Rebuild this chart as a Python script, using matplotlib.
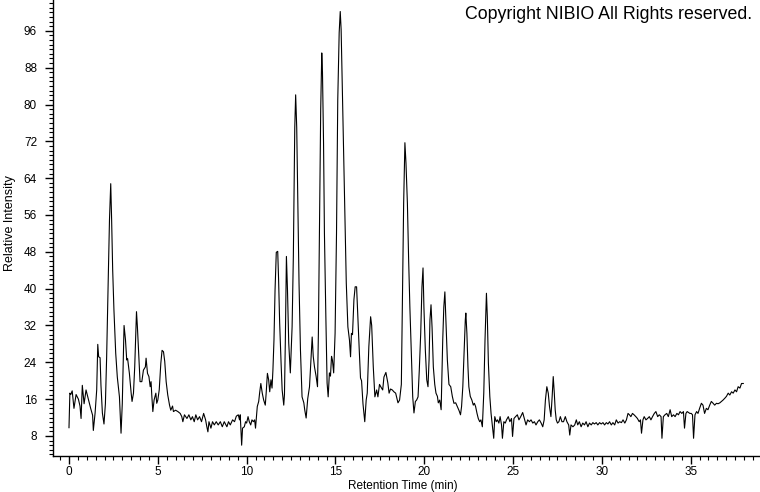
import matplotlib
matplotlib.use("Agg")
import matplotlib.pyplot as plt
from matplotlib.ticker import MultipleLocator

plt.rcParams['font.family'] = ['Liberation Sans', 'DejaVu Sans']

retention_time = [
    0.00, 0.05, 0.10, 0.18, 0.28, 0.40, 0.53, 0.62, 0.68, 0.75, 0.85, 0.96, 1.09, 1.22, 1.33, 1.37,
    1.47, 1.56, 1.62, 1.67, 1.75, 1.80, 1.88, 1.97, 2.05, 2.12, 2.18, 2.22, 2.28, 2.35, 2.40, 2.46,
    2.53, 2.63, 2.72, 2.84, 2.93, 3.00, 3.10, 3.18, 3.25, 3.30, 3.40, 3.50, 3.55, 3.63, 3.70, 3.80,
    3.85, 3.93, 4.00, 4.10, 4.19, 4.30, 4.34, 4.42, 4.50, 4.57, 4.62, 4.66, 4.72, 4.79, 4.89, 4.94,
    5.00, 5.08, 5.17, 5.24, 5.32, 5.39, 5.47, 5.56, 5.66, 5.73, 5.83, 5.88, 6.00, 6.13, 6.26, 6.35,
    6.41, 6.50, 6.64, 6.75, 6.86, 6.95, 7.05, 7.14, 7.24, 7.35, 7.46, 7.58, 7.69, 7.76, 7.82, 7.88,
    7.99, 8.08, 8.18, 8.29, 8.40, 8.52, 8.63, 8.74, 8.89, 8.98, 9.08, 9.21, 9.32, 9.42, 9.53, 9.60,
    9.64, 9.72, 9.77, 9.87, 9.94, 10.00, 10.08, 10.15, 10.23, 10.30, 10.38, 10.45, 10.50, 10.60,
    10.68, 10.73, 10.80, 10.88, 10.96, 11.05, 11.10, 11.17, 11.24, 11.30, 11.37, 11.43, 11.48,
    11.54, 11.60, 11.67, 11.75, 11.80, 11.86, 11.94, 12.00, 12.09, 12.13, 12.18, 12.24, 12.30,
    12.37, 12.46, 12.56, 12.63, 12.71, 12.76, 12.82, 12.88, 12.95, 13.03, 13.12, 13.22, 13.27,
    13.35, 13.44, 13.54, 13.63, 13.69, 13.75, 13.82, 13.91, 13.99, 14.04, 14.12, 14.17, 14.23,
    14.27, 14.33, 14.38, 14.46, 14.53, 14.59, 14.66, 14.72, 14.78, 14.83, 14.90, 14.98, 15.06,
    15.13, 15.21, 15.27, 15.32, 15.38, 15.46, 15.53, 15.61, 15.70, 15.79, 15.85, 15.90, 15.96,
    16.04, 16.11, 16.19, 16.26, 16.34, 16.41, 16.47, 16.55, 16.65, 16.73, 16.79, 16.88, 16.98,
    17.04, 17.13, 17.22, 17.32, 17.39, 17.48, 17.58, 17.66, 17.73, 17.84, 17.95, 18.02, 18.10,
    18.20, 18.29, 18.39, 18.52, 18.61, 18.71, 18.78, 18.84, 18.91, 18.97, 19.05, 19.12, 19.19,
    19.27, 19.35, 19.42, 19.50, 19.57, 19.65, 19.72, 19.80, 19.87, 19.93, 19.98, 20.06, 20.14,
    20.21, 20.27, 20.32, 20.38, 20.44, 20.51, 20.59, 20.66, 20.74, 20.79, 20.87, 20.95, 21.04,
    21.10, 21.16, 21.22, 21.30, 21.39, 21.49, 21.58, 21.67, 21.77, 21.86, 21.96, 22.04, 22.10,
    22.17, 22.25, 22.31, 22.34, 22.40, 22.46, 22.51, 22.59, 22.68, 22.76, 22.82, 22.89, 22.97,
    23.04, 23.12, 23.19, 23.27, 23.35, 23.42, 23.50, 23.55, 23.61, 23.69, 23.76, 23.84, 23.91,
    23.97, 24.05, 24.12, 24.20, 24.27, 24.35, 24.40, 24.48, 24.56, 24.63, 24.73, 24.82, 24.91,
    24.97, 25.05, 25.14, 25.24, 25.33, 25.43, 25.54, 25.63, 25.73, 25.82, 25.92, 26.01, 26.11,
    26.20, 26.29, 26.39, 26.48, 26.58, 26.67, 26.75, 26.82, 26.90, 26.98, 27.05, 27.13, 27.20,
    27.26, 27.32, 27.37, 27.43, 27.50, 27.58, 27.66, 27.75, 27.84, 27.94, 28.03, 28.13, 28.19,
    28.26, 28.37, 28.47, 28.56, 28.64, 28.73, 28.83, 28.92, 29.02, 29.11, 29.21, 29.30, 29.40,
    29.49, 29.58, 29.68, 29.77, 29.87, 29.96, 30.06, 30.15, 30.25, 30.34, 30.43, 30.53, 30.62,
    30.72, 30.81, 30.91, 31.00, 31.10, 31.19, 31.29, 31.38, 31.47, 31.55, 31.63, 31.72, 31.81,
    31.91, 32.00, 32.10, 32.17, 32.23, 32.31, 32.38, 32.48, 32.57, 32.67, 32.76, 32.85, 32.95,
    33.04, 33.14, 33.23, 33.33, 33.38, 33.46, 33.55, 33.65, 33.74, 33.84, 33.93, 34.03, 34.12,
    34.22, 34.31, 34.40, 34.50, 34.59, 34.65, 34.73, 34.80, 34.88, 34.95, 35.03, 35.10, 35.16,
    35.24, 35.33, 35.41, 35.50, 35.60, 35.69, 35.78, 35.88, 35.97, 36.07, 36.16, 36.26, 36.35,
    36.45, 36.54, 36.64, 36.73, 36.82, 36.92, 37.01, 37.11, 37.20, 37.30, 37.39, 37.49, 37.58,
    37.67, 37.77, 37.86, 37.96,
]

relative_intensity = [
    9.8, 17.3, 17.0, 17.8, 14.0, 17.0, 16.0, 14.5, 11.8, 19.0, 15.0, 18.0, 16.0, 14.0, 12.5, 9.2,
    13.0, 18.0, 27.9, 25.2, 25.0, 19.0, 13.0, 10.6, 15.0, 25.2, 37.0, 44.0, 55.0, 62.8, 55.0, 44.0,
    35.4, 26.0, 20.8, 16.5, 8.6, 15.0, 32.0, 28.9, 24.5, 24.8, 21.6, 17.3, 15.5, 17.3, 23.0, 35.0,
    31.8, 25.2, 19.8, 19.8, 22.3, 23.0, 24.9, 21.6, 20.9, 18.7, 19.8, 16.9, 13.3, 15.8, 17.3, 15.1,
    15.8, 18.0, 23.8, 26.6, 26.3, 24.2, 19.8, 16.9, 14.7, 13.6, 14.5, 13.3, 13.6, 13.3, 12.9, 12.2,
    11.1, 12.6, 11.8, 12.6, 11.5, 12.2, 11.1, 12.6, 11.5, 12.2, 11.1, 12.9, 11.5, 10.0, 8.9, 11.1,
    9.7, 11.1, 10.4, 11.1, 10.4, 11.1, 10.0, 11.1, 10.0, 11.1, 10.4, 11.5, 11.1, 12.3, 12.6, 11.5,
    12.6, 6.0, 9.7, 10.0, 11.1, 10.8, 12.2, 11.1, 10.4, 11.5, 11.1, 11.5, 9.7, 14.4,
    15.5, 17.3, 19.4, 17.3, 15.8, 14.7, 17.3, 21.6, 20.2, 17.6, 20.2, 18.4, 22.3,
    28.9, 39.7, 47.9, 48.1, 41.9, 32.5, 23.8, 18.0, 14.7, 17.0, 28.9, 47.0, 39.7,
    28.2, 21.7, 31.7, 47.0, 75.0, 82.1, 75.0, 59.3, 41.2, 26.7, 16.5, 15.2, 13.7,
    11.9, 16.1, 18.7, 25.3, 29.5, 25.3, 23.0, 21.0, 18.7, 30.3, 59.3, 78.9, 91.2,
    87.0, 71.7, 52.0, 33.9, 19.5, 16.5, 21.7, 21.0, 25.3, 24.5, 21.7, 30.3, 52.0,
    81.0, 95.6, 100.2, 96.3, 84.7, 70.2, 55.6, 41.2, 31.7, 28.8, 25.2, 30.3, 30.0,
    37.6, 40.4, 40.4, 33.9, 26.7, 20.6, 20.0, 15.0, 11.1, 15.8, 17.3, 27.4, 33.9,
    32.0, 23.0, 16.5, 18.0, 16.5, 19.2, 18.5, 18.0, 20.8, 21.8, 19.5, 17.3, 18.2,
    18.0, 17.6, 17.3, 15.2, 15.8, 19.2, 39.7, 58.6, 71.7, 67.3, 58.6, 46.3, 36.0,
    26.0, 16.5, 13.0, 15.5, 15.8, 16.5, 22.3, 30.3, 40.4, 44.5, 36.0, 26.7, 20.2,
    18.7, 24.5, 33.2, 36.5, 31.5, 23.0, 19.2, 17.3, 16.6, 15.2, 15.8, 13.7, 28.9,
    36.0, 39.3, 33.2, 24.5, 19.2, 18.7, 16.6, 15.1, 15.2, 14.4, 13.5, 12.6, 14.4,
    18.7, 26.7, 33.2, 34.7, 30.3, 23.0, 18.7, 16.6, 15.8, 14.7, 15.1, 14.4, 12.9,
    11.8, 11.1, 11.5, 10.0, 17.3, 28.9, 39.0, 33.9, 23.8, 16.6, 12.9, 10.0, 7.5,
    12.2, 11.1, 11.5, 10.8, 12.2, 10.4, 7.5, 11.1, 10.8, 11.5, 12.2, 11.1, 11.8,
    7.9, 11.8, 12.2, 12.6, 11.5, 12.2, 13.1, 11.8, 10.4, 11.5, 11.1, 11.5, 10.8,
    11.1, 10.4, 11.1, 11.5, 10.8, 10.0, 11.5, 15.8, 18.7, 17.3, 14.4, 12.2, 16.6,
    20.9, 17.3, 13.7, 11.5, 10.8, 11.1, 12.2, 11.1, 11.1, 12.2, 11.1, 10.4, 8.2,
    10.4, 10.0, 10.4, 11.5, 10.4, 11.1, 10.0, 10.8, 10.4, 11.1, 10.0, 10.8, 10.4,
    10.9, 10.6, 10.9, 10.4, 10.9, 10.6, 10.9, 10.4, 10.9, 10.6, 11.1, 10.4, 10.9,
    10.4, 11.5, 10.8, 11.1, 10.9, 11.5, 10.8, 11.5, 12.9, 12.6, 12.2, 12.9, 12.6,
    12.2, 11.8, 11.1, 11.5, 8.6, 11.5, 12.2, 11.5, 11.8, 12.2, 11.5, 12.2, 12.9,
    13.3, 12.2, 12.6, 12.2, 7.5, 12.2, 12.6, 12.9, 12.2, 13.7, 12.2, 12.6, 12.2,
    12.9, 12.6, 13.3, 12.9, 13.3, 9.7, 12.9, 13.3, 13.1, 12.9, 12.9, 12.6, 7.5,
    12.6, 13.3, 12.9, 14.0, 15.1, 14.7, 12.9, 14.0, 13.7, 14.7, 15.5, 15.1, 14.7,
    15.1, 15.0, 15.2, 15.5, 15.8, 16.2, 16.6, 17.3, 16.9, 17.6, 17.3, 18.0, 17.6,
    18.7, 18.4, 19.4, 19.4,
]

y_ticks = [8, 16, 24, 32, 40, 48, 56, 64, 72, 80, 88, 96]
x_ticks = [0, 5, 10, 15, 20, 25, 30, 35]

fig = plt.figure(figsize=(7.6, 4.92), dpi=100)
ax = fig.add_axes([53 / 760, 1 - 456 / 492, 707 / 760, 456 / 492])

ax.plot(retention_time, relative_intensity, color='black', linewidth=0.8)

ax.set_xlim(-0.9, 38.9)
ax.set_ylim(3.65, 102.7)

ax.set_xticks(x_ticks)
ax.set_yticks(y_ticks)
ax.xaxis.set_minor_locator(MultipleLocator(0.5))
ax.yaxis.set_minor_locator(MultipleLocator(1))

ax.spines['top'].set_visible(False)
ax.spines['right'].set_visible(False)
for s in ('left', 'bottom'):
    ax.spines[s].set_linewidth(1.0)

ax.tick_params(which='major', direction='out', length=6, width=1.0, labelsize=8.5, colors='black')
ax.tick_params(which='minor', direction='out', length=3, width=0.8)
ax.tick_params(axis='y', which='major', pad=5.5)
ax.tick_params(axis='x', which='major', pad=1.0)

ax.set_xlabel('Retention Time (min)', fontsize=8.5, va='top')
ax.xaxis.set_label_coords(0.495, -0.052)
ax.set_ylabel('Relative Intensity', fontsize=9)
ax.yaxis.set_label_coords(-0.053, 0.511)

fig.text(752 / 760, 1 - 19 / 492, 'Copyright NIBIO All Rights reserved.',
         ha='right', va='baseline', fontsize=12.8)

fig.savefig('out.png', dpi=100)
